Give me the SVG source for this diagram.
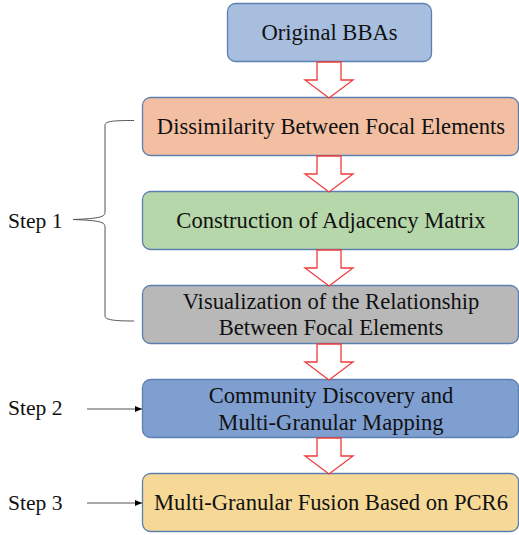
<svg xmlns="http://www.w3.org/2000/svg" width="519" height="535" viewBox="0 0 519 535">
<defs>
<marker id="ah" markerWidth="7" markerHeight="6" refX="7" refY="3" orient="auto" markerUnits="userSpaceOnUse">
<path d="M0,0 L7,3 L0,6 Z" fill="#000"/>
</marker>
<style>
.box{stroke:#5b7fae;stroke-width:1.3}
.t{font-family:"Liberation Serif","Times New Roman",serif;font-size:22.6px;fill:#111;text-anchor:middle}
.s{font-family:"Liberation Serif","Times New Roman",serif;font-size:21.6px;fill:#111}
.ba{fill:#fff;stroke:#ee3b3b;stroke-width:1.3}
.ln{fill:none;stroke:#555;stroke-width:1}
</style>
</defs>
<rect width="519" height="535" fill="#fff"/>
<g id="n1"><rect class="box" x="227.5" y="3.5" width="204" height="58" rx="8" fill="#a7bedf"/><text class="t" x="329.5" y="40">Original BBAs</text></g>
<g id="n2"><rect class="box" x="142.5" y="97.5" width="376" height="58" rx="8" fill="#f3bfa3"/><text class="t" x="331" y="134">Dissimilarity Between Focal Elements</text></g>
<g id="n3"><rect class="box" x="142.5" y="191.5" width="376" height="58" rx="8" fill="#b6d7a9"/><text class="t" x="331" y="228">Construction of Adjacency Matrix</text></g>
<g id="n4"><rect class="box" x="142.5" y="285.5" width="376" height="58" rx="8" fill="#b8b8b9"/><text class="t" x="331" y="309">Visualization of the Relationship</text><text class="t" x="331" y="335">Between Focal Elements</text></g>
<g id="n5"><rect class="box" x="142.5" y="379.5" width="376" height="58" rx="8" fill="#7f9fd1"/><text class="t" x="331" y="403">Community Discovery and</text><text class="t" x="331" y="430">Multi-Granular Mapping</text></g>
<g id="n6"><rect class="box" x="142.5" y="473.5" width="376" height="58" rx="8" fill="#f6d996"/><text class="t" x="331" y="510">Multi-Granular Fusion Based on PCR6</text></g>
<g id="labels">
<text class="s" x="8" y="228">Step 1</text>
<text class="s" x="8" y="415">Step 2</text>
<text class="s" x="8" y="510">Step 3</text>
</g>
<g id="connectors">
<path class="ba" d="M317,62 H341 V80 H353 L329,98 L305,80 H317 Z"/>
<path class="ba" d="M317,156 H341 V174 H353 L329,192 L305,174 H317 Z"/>
<path class="ba" d="M317,250 H341 V268 H353 L329,286 L305,268 H317 Z"/>
<path class="ba" d="M317,344 H341 V362 H353 L329,380 L305,362 H317 Z"/>
<path class="ba" d="M317,438 H341 V456 H353 L329,474 L305,456 H317 Z"/>
<path class="ln" d="M134,120.5 C115,120.5 105,121 105,125 V212 C105,217 100,218.5 73,219.5 C100,220.5 105,222 105,227 V316 C105,320 115,321 134,321"/>
<line x1="87" y1="409" x2="142" y2="409" stroke="#555" stroke-width="1" marker-end="url(#ah)"/>
<line x1="87" y1="503" x2="142" y2="503" stroke="#555" stroke-width="1" marker-end="url(#ah)"/>
</g>
</svg>
